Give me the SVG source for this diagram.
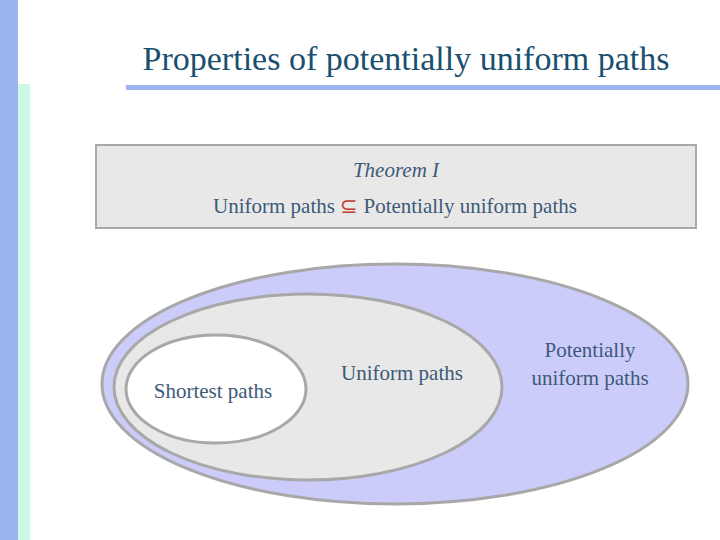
<svg xmlns="http://www.w3.org/2000/svg" width="720" height="540" viewBox="0 0 720 540">
<style>
text{font-family:"Liberation Serif",serif;fill:#3d5a78;font-size:21px;text-anchor:middle}
.e{stroke:#a8a8a8;stroke-width:3}
</style>
<rect width="720" height="540" fill="#fff"/>
<rect x="0" y="0" width="18" height="540" fill="#9db5ee"/>
<rect x="18" y="84" width="12" height="456" fill="#ccf7e2"/>
<text x="406" y="70" style="font-size:34px;fill:#1a4f70">Properties of potentially uniform paths</text>
<rect x="126" y="85" width="594" height="5" fill="#9db5ee"/>
<g id="theorem">
<rect x="96" y="145" width="600" height="83" fill="#e8e8e8" stroke="#a8a8a8" stroke-width="2"/>
<text x="396" y="177" font-style="italic">Theorem I</text>
<text x="395" y="213">Uniform paths <tspan style="fill:#c0392b">⊆</tspan> Potentially uniform paths</text>
</g>
<g id="potentially">
<ellipse class="e" cx="395" cy="384" rx="293" ry="120" fill="#ccccfa"/>
<text x="590" y="357">Potentially</text>
<text x="590" y="385">uniform paths</text>
</g>
<g id="uniform">
<ellipse class="e" cx="308" cy="387" rx="194" ry="93" fill="#e8e8e8"/>
<text x="402" y="380">Uniform paths</text>
</g>
<g id="shortest">
<ellipse class="e" cx="216" cy="389" rx="90" ry="54" fill="#fff"/>
<text x="213" y="398">Shortest paths</text>
</g>
<g id="connectors"/>
</svg>
